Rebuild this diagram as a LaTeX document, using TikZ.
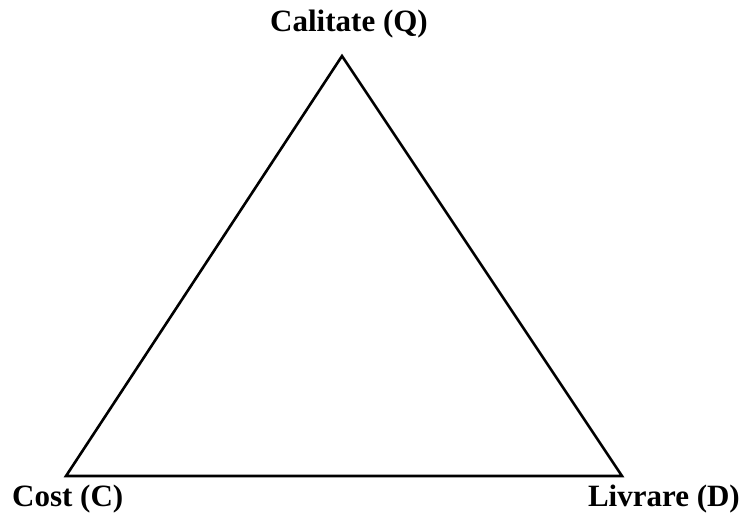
\documentclass[tikz,border=0pt]{standalone}
\usepackage{fontspec}
\setmainfont{Liberation Serif}
\usetikzlibrary{positioning}

\begin{document}
\begin{tikzpicture}[
            x=1pt, y=-1pt,
            side/.style={line width=2.6pt, line join=miter},
            lbl/.style={font=\fontsize{31}{34}\selectfont\bfseries, inner sep=0pt}
        ]
        \useasboundingbox (0, 0) rectangle (743, 520);

        % corners of the triangle
        \coordinate (top) at (342, 56);
        \coordinate (left) at (66, 476);
        \coordinate (right) at (622, 476);
        \draw[side] (top) -- (left) -- (right) -- cycle;

        % corner labels
        \node[lbl, anchor=base] (q) at (349, 31) {Calitate (Q)};
        \node[lbl, anchor=base west] (c) at (12, 506) {Cost (C)};
        \node[lbl, anchor=base east] (d) at (740, 506) {Livrare (D)};
        \end{tikzpicture}
\end{document}
